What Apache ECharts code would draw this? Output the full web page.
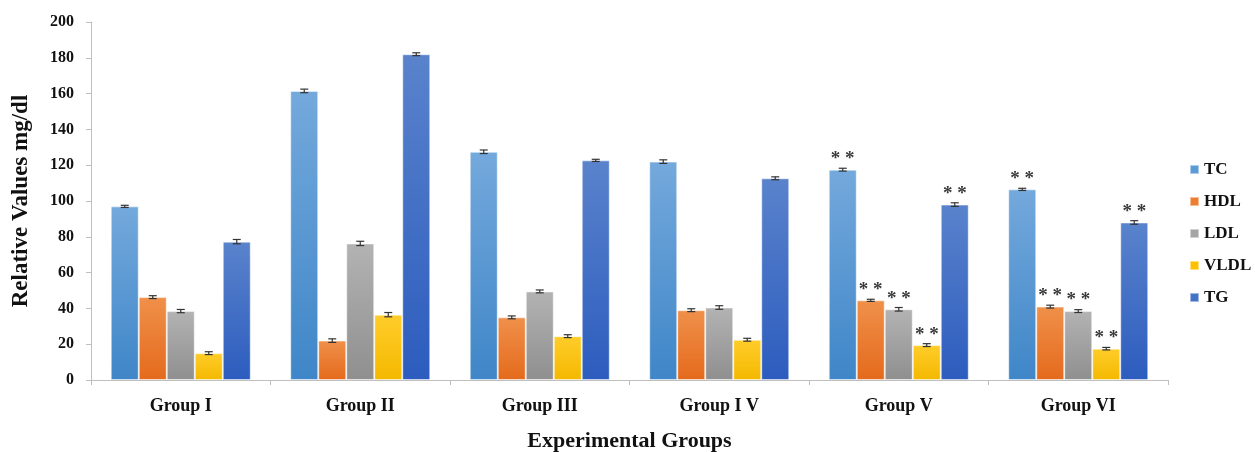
<!DOCTYPE html>
<html><head><meta charset="utf-8">
<script src="https://cdn.jsdelivr.net/npm/echarts@6/dist/echarts.min.js"></script>
<style>html,body{margin:0;padding:0;background:#fff}#c{width:1255px;height:452px}</style>
</head><body><div id="c"></div>
<script>
const categories = ['Group I','Group II','Group III','Group I V','Group V','Group VI'];
const seriesNames = ['TC','HDL','LDL','VLDL','TG'];
const TC   = [97, 161.5, 127.5, 122, 117.5, 106.5];
const HDL  = [46.3, 22, 35, 39, 44.5, 41];
const LDL  = [38.5, 76.3, 49.5, 40.5, 39.5, 38.5];
const VLDL = [15, 36.5, 24.5, 22.5, 19.5, 17.5];
const TG   = [77.3, 182, 122.7, 112.7, 98, 88];
const errTC   = [0.6, 1, 1, 1, 0.8, 0.6];
const errHDL  = [0.8, 1, 0.8, 0.8, 0.6, 0.8];
const errLDL  = [0.9, 1.2, 0.8, 1, 1, 0.8];
const errVLDL = [0.8, 1.2, 0.8, 0.8, 0.8, 0.7];
const errTG   = [1.2, 0.8, 0.6, 0.8, 1, 1];
const significant = [false, false, false, false, true, true];
const yTicks = [0,20,40,60,80,100,120,140,160,180,200];

const values = [TC, HDL, LDL, VLDL, TG];
const errs = [errTC, errHDL, errLDL, errVLDL, errTG];
const colors = [
  ['#74a9dc','#3f86c8'],
  ['#f0904a','#e46a1c'],
  ['#b3b3b3','#8f8f8f'],
  ['#ffcd2a','#f4b800'],
  ['#5a83cc','#2c5cbe']
];
const legendColors = ['#5b9bd5','#ed7d31','#a5a5a5','#ffc000','#4472c4'];
const font = '"Liberation Serif", "Times New Roman", serif';
const gapFrac = 0.22;

const series = values.map((vals, si) => ({
  name: seriesNames[si],
  type: 'bar',
  barGap: '0%',
  barCategoryGap: (gapFrac*100)+'%',
  itemStyle: {
    color: {type:'linear',x:0,y:0,x2:0,y2:1,colorStops:[{offset:0,color:colors[si][0]},{offset:1,color:colors[si][1]}]},
    borderColor: 'rgba(255,255,255,0.5)', borderWidth: 1
  },
  data: vals.map((v, ci) => ({
    value: v,
    label: {
      show: significant[ci],
      position: 'top',
      distance: 1,
      formatter: '* *',
      fontFamily: font,
      fontSize: 19,
      fontWeight: 'bold',
      color: '#3a3a3a'
    }
  }))
}));

const errData = [];
values.forEach((vals, si) => vals.forEach((v, ci) => errData.push([ci, si, v, errs[si][ci]])));

series.push({
  type: 'custom',
  name: 'err',
  silent: true,
  z: 10,
  renderItem: function(params, api) {
    const ci = api.value(0), si = api.value(1), v = api.value(2), e = api.value(3);
    const bandW = api.size([1, 0])[0];
    const barW = bandW * (1 - gapFrac) / 5;
    const c = api.coord([ci, v]);
    const x = c[0] + (si - 2) * barW;
    const yHi = api.coord([ci, v + e])[1];
    const yLo = api.coord([ci, v - e])[1];
    const hw = 4;
    const style = {stroke: '#333', lineWidth: 1.2, fill: null};
    return {type: 'group', children: [
      {type:'line', shape:{x1:x,y1:yHi,x2:x,y2:yLo}, style},
      {type:'line', shape:{x1:x-hw,y1:yHi,x2:x+hw,y2:yHi}, style},
      {type:'line', shape:{x1:x-hw,y1:yLo,x2:x+hw,y2:yLo}, style}
    ]};
  },
  encode: {x: 0, y: 2},
  data: errData
});

const chart = echarts.init(document.getElementById('c'), null, {renderer: 'canvas'});
chart.setOption({
  animation: false,
  backgroundColor: '#fff',
  grid: {left: 91, right: 87, top: 22, bottom: 72, containLabel: false, outerBoundsMode: 'none'},
  legend: {
    data: seriesNames.map((n, i) => ({name: n, itemStyle: {color: legendColors[i]}})),
    orient: 'vertical',
    left: 1184, top: 156,
    itemWidth: 9, itemHeight: 9, itemGap: 15,
    icon: 'rect',
    textStyle: {fontFamily: font, fontWeight: 'bold', fontSize: 17, color: '#111'}
  },
  xAxis: {
    type: 'category',
    data: categories,
    axisLine: {lineStyle: {color: '#bfbfbf'}},
    axisTick: {show: true, length: 5, lineStyle: {color: '#bfbfbf'}},
    axisLabel: {fontFamily: font, fontWeight: 'bold', fontSize: 18, color: '#111', margin: 17},
    name: 'Experimental Groups',
    nameLocation: 'middle',
    nameGap: 50,
    nameTextStyle: {fontFamily: font, fontWeight: 'bold', fontSize: 22, color: '#111'}
  },
  yAxis: {
    type: 'value',
    min: 0, max: 200, interval: 20,
    splitLine: {show: false},
    axisLine: {show: true, lineStyle: {color: '#bfbfbf'}},
    axisTick: {show: true, length: 5, lineStyle: {color: '#bfbfbf'}},
    axisLabel: {fontFamily: font, fontWeight: 'bold', fontSize: 16, color: '#111', margin: 17,
      formatter: v => yTicks.includes(v) ? String(v) : ''},
    name: 'Relative Values mg/dl',
    nameLocation: 'middle',
    nameGap: 58,
    nameTextStyle: {fontFamily: font, fontWeight: 'bold', fontSize: 23, color: '#111'}
  },
  series: series
});
</script>
</body></html>
